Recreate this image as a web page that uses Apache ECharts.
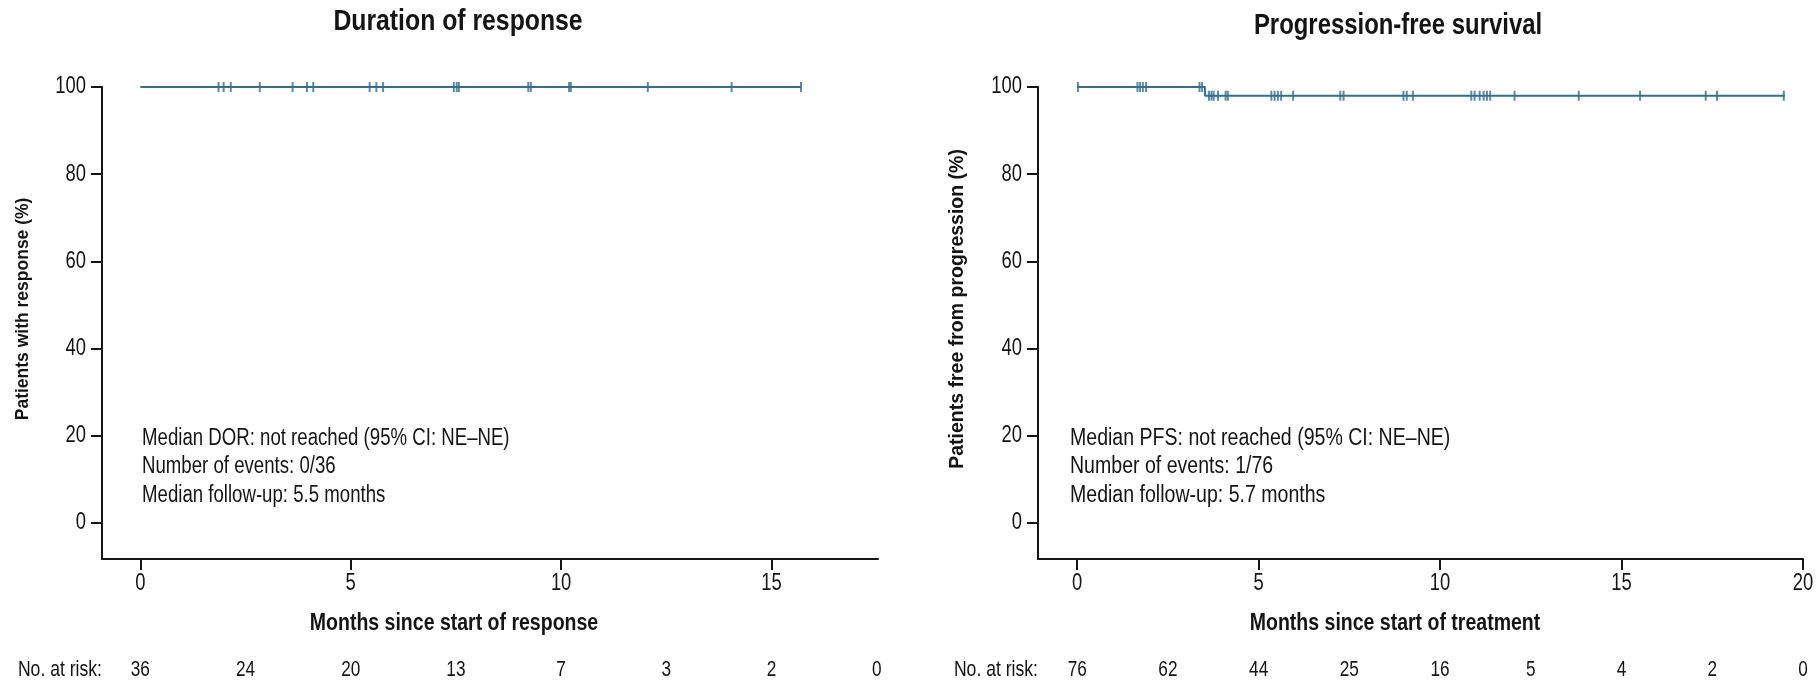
<!DOCTYPE html>
<html>
<head>
<meta charset="utf-8">
<script src="https://cdn.jsdelivr.net/npm/echarts@6/dist/echarts.min.js"></script>
<style>
  html, body { margin: 0; padding: 0; background: #ffffff; }
  #chart { width: 1819px; height: 681px; }
</style>
</head>
<body>
<div id="chart"></div>
<script>
// Duration of response: Kaplan–Meier curve (months, % with response)
const dorCurve = [[0, 100], [15.70, 100]];
const dorCensored = [1.86, 1.98, 2.15, 2.84, 3.62, 3.96, 4.11, 5.45, 5.61, 5.77,
  7.45, 7.52, 7.57, 9.22, 9.28, 10.19, 10.23, 12.06, 14.05, 15.70];
const dorRiskTimes = [0, 2.5, 5, 7.5, 10, 12.5, 15, 17.5];
const dorAtRisk = [36, 24, 20, 13, 7, 3, 2, 0];
const dorXTicks = [0, 5, 10, 15];

// Progression-free survival: Kaplan–Meier curve (months, % progression-free)
const pfsCurve = [[0, 100], [3.52, 98.0], [19.50, 98.0]];
const pfsCensored = [0.02, 1.66, 1.73, 1.81, 1.90, 3.37, 3.44, 3.63, 3.70, 3.76,
  3.88, 4.09, 4.15, 5.35, 5.44, 5.53, 5.62, 5.95, 7.25, 7.34, 8.99, 9.08, 9.25,
  10.86, 10.95, 11.09, 11.20, 11.29, 11.38, 12.05, 13.82, 15.51, 17.32, 17.63, 19.47];
const pfsRiskTimes = [0, 2.5, 5, 7.5, 10, 12.5, 15, 17.5, 20];
const pfsAtRisk = [76, 62, 44, 25, 16, 5, 4, 2, 0];
const pfsXTicks = [0, 5, 10, 15, 20];

const yTicks = [0, 20, 40, 60, 80, 100];

const CURVE = '#336f8e';
const INK = '#141414';
const SANS = "'Liberation Sans', Arial, sans-serif";
const NARROW_SCALE = 0.8;   // condensed face, drawn by squeezing Liberation Sans

// survival level at time t for a step curve (value holds until the next point)
function levelAt(curve, t) {
  let y = curve[0][1];
  for (const p of curve) { if (p[0] <= t) y = p[1]; }
  return y;
}
function censorPoints(curve, times) {
  return times.map(t => [t, levelAt(curve, t)]);
}

function mainXAxis(gridIndex, min, max, ticks) {
  return {
    type: 'value', gridIndex, min, max, position: 'bottom',
    axisLine: { show: true, onZero: false, lineStyle: { color: INK, width: 2 } },
    axisTick: { show: true, customValues: ticks, length: 11, lineStyle: { color: INK, width: 2 } },
    axisLabel: { show: false },
    splitLine: { show: false }
  };
}
function mainYAxis(gridIndex) {
  return {
    type: 'value', gridIndex, min: -8.3, max: 100,
    axisLine: { show: true, onZero: false, lineStyle: { color: INK, width: 2 } },
    axisTick: { show: true, customValues: yTicks, length: 11, lineStyle: { color: INK, width: 2 } },
    axisLabel: { show: false },
    splitLine: { show: false }
  };
}
function curveSeries(axisIndex, data) {
  return {
    type: 'line', xAxisIndex: axisIndex, yAxisIndex: axisIndex, data,
    step: 'end', symbol: 'none', silent: true,
    lineStyle: { color: CURVE, width: 2 }
  };
}
function censorSeries(axisIndex, data) {
  return {
    type: 'scatter', xAxisIndex: axisIndex, yAxisIndex: axisIndex, data,
    symbol: 'rect', symbolSize: [2, 10], silent: true,
    itemStyle: { color: CURVE }
  };
}

const chart = echarts.init(document.getElementById('chart'), null, { renderer: 'canvas' });
chart.setOption({
  animation: false,
  backgroundColor: '#ffffff',
  grid: [
    { left: 102, top: 87, width: 776, height: 472, containLabel: false },
    { left: 1038, top: 87, width: 765, height: 472, containLabel: false }
  ],
  xAxis: [
    mainXAxis(0, -0.91, 17.53, dorXTicks),
    mainXAxis(1, -1.08, 20, pfsXTicks)
  ],
  yAxis: [mainYAxis(0), mainYAxis(1)],
  series: [
    curveSeries(0, dorCurve),
    censorSeries(0, censorPoints(dorCurve, dorCensored)),
    curveSeries(1, pfsCurve),
    censorSeries(1, censorPoints(pfsCurve, pfsCensored))
  ]
});

// ---- condensed text layer, placed through the axes' own scales ----
function label(text, x, y, o) {
  o = o || {};
  return {
    type: 'text', x, y, silent: true,
    scaleX: o.scaleX === undefined ? NARROW_SCALE : o.scaleX,
    rotation: o.rotation || 0,
    style: {
      text, fill: INK, fontFamily: SANS,
      fontSize: o.size || 21, fontWeight: o.bold ? 'bold' : 'normal',
      align: o.align || 'center', verticalAlign: o.valign || 'middle'
    }
  };
}
const px = (i, v) => chart.convertToPixel({ xAxisIndex: i }, v);
const py = (i, v) => chart.convertToPixel({ yAxisIndex: i }, v);

const panels = [
  { i: 0, xMin: -0.91, ticks: dorXTicks, riskT: dorRiskTimes, risk: dorAtRisk,
    title: 'Duration of response', titleX: 458, titleY: 22, titleScale: 0.84,
    xName: 'Months since start of response', xNameX: 454,
    yName: 'Patients with response (%)', yNameX: 23, yNameSize: 17.5,
    notes: ['Median DOR: not reached (95% CI: NE\u2013NE)', 'Number of events: 0/36', 'Median follow-up: 5.5 months'],
    notesX: 142, notesScale: 0.81 },
  { i: 1, xMin: -1.08, ticks: pfsXTicks, riskT: pfsRiskTimes, risk: pfsAtRisk,
    title: 'Progression-free survival', titleX: 1398, titleY: 26, titleScale: 0.81,
    xName: 'Months since start of treatment', xNameX: 1395,
    yName: 'Patients free from progression (%)', yNameX: 958, yNameSize: 19.5,
    notes: ['Median PFS: not reached (95% CI: NE\u2013NE)', 'Number of events: 1/76', 'Median follow-up: 5.7 months'],
    notesX: 1070, notesScale: 0.85 }
];

const texts = [];
panels.forEach(p => {
  const axisX = px(p.i, p.xMin);
  const axisY = py(p.i, -8.3);
  texts.push(label(p.title, p.titleX, p.titleY, { size: 29.5, bold: true, scaleX: p.titleScale }));
  yTicks.forEach(v => texts.push(label(String(v), axisX - 16, py(p.i, v), { align: 'right', size: 23 })));
  p.ticks.forEach(v => texts.push(label(String(v), px(p.i, v), axisY + 25, { size: 23 })));
  texts.push(label(p.xName, p.xNameX, 624, { size: 23.5, bold: true, scaleX: 0.83 }));
  texts.push(label(p.yName, p.yNameX, py(p.i, 50) + 4, { size: p.yNameSize, bold: true, scaleX: 1, rotation: Math.PI / 2 }));
  p.notes.forEach((t, k) => texts.push(label(t, p.notesX, 438.5 + 28.5 * k, { size: 23, align: 'left', scaleX: p.notesScale })));
  texts.push(label('No. at risk:', axisX, 670, { align: 'right', size: 22 }));
  p.riskT.forEach((t, k) => texts.push(label(String(p.risk[k]), px(p.i, t), 670, { size: 21.5 })));
});
chart.setOption({ graphic: texts });
</script>
</body>
</html>
